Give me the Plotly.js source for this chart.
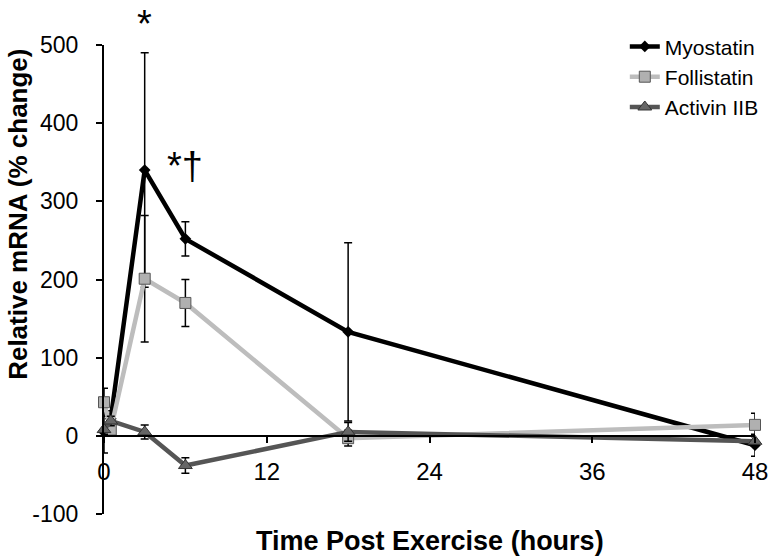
<!DOCTYPE html>
<html>
<head>
<meta charset="utf-8">
<script src="https://cdn.plot.ly/plotly-3.0.1.min.js"></script>
<style>
  html, body { margin: 0; padding: 0; background: #fff; }
  #chart { width: 776px; height: 559px; }
</style>
</head>
<body>
<div id="chart"></div>
<script>
// Time points (hours)
const hours = [0, 0.5, 3, 6, 18, 48];

// Series values (% change)
const myostatin     = [5, 22, 340, 252, 133, -12];
const myostatinErr  = [27, 10, 150, 22, 114, 14];
const follistatin    = [43, 8, 201, 170, -3, 14];
const follistatinErr = [18, 8, 81, 30, 10, 15];
const activin        = [8, 19, 5, -38, 5, -7];
const activinErr     = [6, 6, 9, 10, 12, 6];

const xTicks = [0, 12, 24, 36, 48];
const yTicks = [-100, 0, 100, 200, 300, 400, 500];

const FONT = 'Liberation Sans, Arial, sans-serif';

function errBar(arr) {
  return { type: 'data', array: arr, visible: true, color: '#000', thickness: 1.5, width: 4 };
}

const traces = [
  {
    x: hours, y: myostatin, name: 'Myostatin', type: 'scatter', mode: 'lines+markers',
    line: { color: '#000000', width: 4.5 },
    marker: { symbol: 'diamond', size: 9, color: '#000000' },
    error_y: errBar(myostatinErr), cliponaxis: false
  },
  {
    x: hours, y: follistatin, name: 'Follistatin', type: 'scatter', mode: 'lines+markers',
    line: { color: '#bdbdbd', width: 4.5 },
    marker: { symbol: 'square', size: 11, color: '#b0b0b0', line: { color: '#555555', width: 1 } },
    error_y: errBar(follistatinErr), cliponaxis: false
  },
  {
    x: hours, y: activin, name: 'Activin IIB', type: 'scatter', mode: 'lines+markers',
    line: { color: '#555555', width: 4.5 },
    marker: { symbol: 'triangle-up', size: 12, color: '#666666', line: { color: '#333333', width: 1 } },
    error_y: errBar(activinErr), cliponaxis: false
  }
];

const layout = {
  width: 776, height: 559,
  margin: { l: 104, r: 19, t: 45, b: 45 },
  paper_bgcolor: '#ffffff', plot_bgcolor: '#ffffff',
  font: { family: FONT, color: '#000', size: 22 },
  showlegend: true,
  legend: {
    x: 0.80, y: 1.04, xanchor: 'left', yanchor: 'top',
    font: { family: FONT, size: 21, color: '#000' },
    bgcolor: 'rgba(0,0,0,0)', itemwidth: 30, tracegroupgap: 0
  },
  xaxis: {
    range: [0, 48], tickvals: xTicks, ticktext: xTicks.map(String),
    anchor: 'free', position: 1/6,
    showline: true, linecolor: '#000', linewidth: 2,
    ticks: 'outside', ticklen: 6, tickwidth: 2, tickcolor: '#000',
    showgrid: false, zeroline: false,
    tickfont: { family: FONT, size: 24, color: '#000' },
    ticklabelstandoff: 8
  },
  yaxis: {
    range: [-100, 500], tickvals: yTicks, ticktext: yTicks.map(String),
    showline: true, linecolor: '#000', linewidth: 2,
    ticks: 'outside', ticklen: 6, tickwidth: 2, tickcolor: '#000',
    showgrid: false, zeroline: false,
    tickfont: { family: FONT, size: 23, color: '#000' },
    ticklabelstandoff: 13
  },
  annotations: [
    { text: '<b>Time Post Exercise (hours)</b>', xref: 'paper', yref: 'paper',
      x: 0.5, y: -0.057, xanchor: 'center', yanchor: 'middle', showarrow: false,
      font: { family: FONT, size: 27, color: '#000' } },
    { text: '<b>Relative mRNA (% change)</b>', xref: 'paper', yref: 'paper',
      x: -0.132, y: 0.638, xanchor: 'center', yanchor: 'middle', textangle: -90, showarrow: false,
      font: { family: FONT, size: 26, color: '#000' } },
    { text: '*', xref: 'x', yref: 'paper', x: 3, y: 1.045, showarrow: false,
      xanchor: 'center', yanchor: 'middle', font: { family: FONT, size: 38, color: '#000' } },
    { text: '*†', xref: 'x', yref: 'y', x: 6, y: 345, showarrow: false,
      xanchor: 'center', yanchor: 'middle', font: { family: FONT, size: 38, color: '#000' } }
  ]
};

Plotly.newPlot('chart', traces, layout, { displayModeBar: false, staticPlot: true });
</script>
</body>
</html>
